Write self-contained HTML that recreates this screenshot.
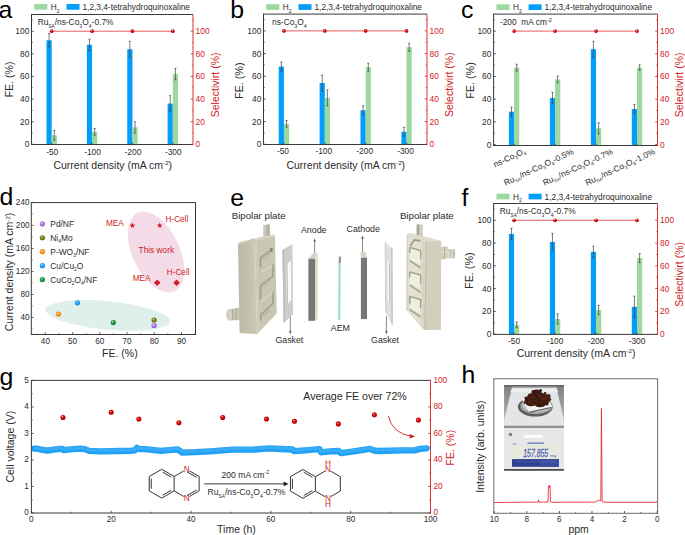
<!DOCTYPE html><html><head><meta charset="utf-8"><style>html,body{margin:0;padding:0;background:#fff;}svg{display:block;}</style></head><body>
<svg width="685" height="535" viewBox="0 0 685 535" font-family='"Liberation Sans", sans-serif'>
<rect width="685" height="535" fill="#fff"/>
<defs>
<radialGradient id="gpur" cx="0.5" cy="0.5" r="0.55" fx="0.36" fy="0.3"><stop offset="0" stop-color="#fff"/><stop offset="0.32" stop-color="#c488ec"/><stop offset="1" stop-color="#9a50d0"/></radialGradient>
<radialGradient id="goli" cx="0.5" cy="0.5" r="0.55" fx="0.36" fy="0.3"><stop offset="0" stop-color="#fff"/><stop offset="0.32" stop-color="#8e8e26"/><stop offset="1" stop-color="#62620c"/></radialGradient>
<radialGradient id="gora" cx="0.5" cy="0.5" r="0.55" fx="0.36" fy="0.3"><stop offset="0" stop-color="#fff"/><stop offset="0.32" stop-color="#ffa030"/><stop offset="1" stop-color="#f07c08"/></radialGradient>
<radialGradient id="gblu" cx="0.5" cy="0.5" r="0.55" fx="0.36" fy="0.3"><stop offset="0" stop-color="#fff"/><stop offset="0.32" stop-color="#30aaff"/><stop offset="1" stop-color="#0a88e8"/></radialGradient>
<radialGradient id="ggrn" cx="0.5" cy="0.5" r="0.55" fx="0.36" fy="0.3"><stop offset="0" stop-color="#fff"/><stop offset="0.32" stop-color="#2aa850"/><stop offset="1" stop-color="#0e7a30"/></radialGradient>
<radialGradient id="gred" cx="0.5" cy="0.5" r="0.55" fx="0.36" fy="0.3"><stop offset="0" stop-color="#fff"/><stop offset="0.32" stop-color="#dc0c0c"/><stop offset="1" stop-color="#b00000"/></radialGradient>
</defs>
<rect x="46.49" y="40.25" width="5.2" height="104.25" fill="#039dfc"/>
<rect x="51.69" y="135.25" width="5.2" height="9.25" fill="#9dd89f"/>
<line x1="49.09" y1="33.46" x2="49.09" y2="47.03" stroke="#444" stroke-width="0.7" />
<line x1="47.99" y1="33.46" x2="50.19" y2="33.46" stroke="#444" stroke-width="0.7" />
<line x1="47.99" y1="47.03" x2="50.19" y2="47.03" stroke="#444" stroke-width="0.7" />
<line x1="54.29" y1="130.39" x2="54.29" y2="140.12" stroke="#444" stroke-width="0.7" />
<line x1="53.19" y1="130.39" x2="55.39" y2="130.39" stroke="#444" stroke-width="0.7" />
<line x1="53.19" y1="140.12" x2="55.39" y2="140.12" stroke="#444" stroke-width="0.7" />
<rect x="86.86" y="44.77" width="5.2" height="99.73" fill="#039dfc"/>
<rect x="92.06" y="131.86" width="5.2" height="12.64" fill="#9dd89f"/>
<line x1="89.46" y1="39.12" x2="89.46" y2="50.43" stroke="#444" stroke-width="0.7" />
<line x1="88.36" y1="39.12" x2="90.56" y2="39.12" stroke="#444" stroke-width="0.7" />
<line x1="88.36" y1="50.43" x2="90.56" y2="50.43" stroke="#444" stroke-width="0.7" />
<line x1="94.66" y1="128.47" x2="94.66" y2="135.25" stroke="#444" stroke-width="0.7" />
<line x1="93.56" y1="128.47" x2="95.76" y2="128.47" stroke="#444" stroke-width="0.7" />
<line x1="93.56" y1="135.25" x2="95.76" y2="135.25" stroke="#444" stroke-width="0.7" />
<rect x="127.24" y="49.3" width="5.2" height="95.2" fill="#039dfc"/>
<rect x="132.44" y="127.34" width="5.2" height="17.16" fill="#9dd89f"/>
<line x1="129.84" y1="41.38" x2="129.84" y2="57.21" stroke="#444" stroke-width="0.7" />
<line x1="128.74" y1="41.38" x2="130.94" y2="41.38" stroke="#444" stroke-width="0.7" />
<line x1="128.74" y1="57.21" x2="130.94" y2="57.21" stroke="#444" stroke-width="0.7" />
<line x1="135.04" y1="121.68" x2="135.04" y2="132.99" stroke="#444" stroke-width="0.7" />
<line x1="133.94" y1="121.68" x2="136.14" y2="121.68" stroke="#444" stroke-width="0.7" />
<line x1="133.94" y1="132.99" x2="136.14" y2="132.99" stroke="#444" stroke-width="0.7" />
<rect x="167.61" y="103.58" width="5.2" height="40.92" fill="#039dfc"/>
<rect x="172.81" y="74.18" width="5.2" height="70.32" fill="#9dd89f"/>
<line x1="170.21" y1="95.67" x2="170.21" y2="111.5" stroke="#444" stroke-width="0.7" />
<line x1="169.11" y1="95.67" x2="171.31" y2="95.67" stroke="#444" stroke-width="0.7" />
<line x1="169.11" y1="111.5" x2="171.31" y2="111.5" stroke="#444" stroke-width="0.7" />
<line x1="175.41" y1="68.52" x2="175.41" y2="79.83" stroke="#444" stroke-width="0.7" />
<line x1="174.31" y1="68.52" x2="176.51" y2="68.52" stroke="#444" stroke-width="0.7" />
<line x1="174.31" y1="79.83" x2="176.51" y2="79.83" stroke="#444" stroke-width="0.7" />
<line x1="51.69" y1="31.2" x2="172.81" y2="31.2" stroke="#e34a4f" stroke-width="0.9" />
<circle cx="51.69" cy="31.2" r="1.85" fill="url(#gred)"/>
<circle cx="92.06" cy="31.2" r="1.85" fill="url(#gred)"/>
<circle cx="132.44" cy="31.2" r="1.85" fill="url(#gred)"/>
<circle cx="172.81" cy="31.2" r="1.85" fill="url(#gred)"/>
<line x1="31.5" y1="14.5" x2="193" y2="14.5" stroke="#3a3a3a" stroke-width="1.0" />
<line x1="31.5" y1="144.5" x2="193" y2="144.5" stroke="#3a3a3a" stroke-width="1.0" />
<line x1="31.5" y1="14.05" x2="31.5" y2="144.95" stroke="#3a3a3a" stroke-width="1.0" />
<line x1="193" y1="14.5" x2="193" y2="144.95" stroke="#d93339" stroke-width="1.0" />
<line x1="31.5" y1="144.3" x2="33.8" y2="144.3" stroke="#3a3a3a" stroke-width="0.8" />
<text x="29.3" y="147.25" font-size="8.4" fill="#2b2b2b" text-anchor="end" >0</text>
<line x1="193" y1="144.3" x2="190.7" y2="144.3" stroke="#d01c24" stroke-width="0.8" />
<text x="195.6" y="147.25" font-size="8.4" fill="#d01c24" text-anchor="start" >0</text>
<line x1="31.5" y1="121.68" x2="33.8" y2="121.68" stroke="#3a3a3a" stroke-width="0.8" />
<text x="29.3" y="124.63" font-size="8.4" fill="#2b2b2b" text-anchor="end" >20</text>
<line x1="193" y1="121.68" x2="190.7" y2="121.68" stroke="#d01c24" stroke-width="0.8" />
<text x="195.6" y="124.63" font-size="8.4" fill="#d01c24" text-anchor="start" >20</text>
<line x1="31.5" y1="99.06" x2="33.8" y2="99.06" stroke="#3a3a3a" stroke-width="0.8" />
<text x="29.3" y="102.01" font-size="8.4" fill="#2b2b2b" text-anchor="end" >40</text>
<line x1="193" y1="99.06" x2="190.7" y2="99.06" stroke="#d01c24" stroke-width="0.8" />
<text x="195.6" y="102.01" font-size="8.4" fill="#d01c24" text-anchor="start" >40</text>
<line x1="31.5" y1="76.44" x2="33.8" y2="76.44" stroke="#3a3a3a" stroke-width="0.8" />
<text x="29.3" y="79.39" font-size="8.4" fill="#2b2b2b" text-anchor="end" >60</text>
<line x1="193" y1="76.44" x2="190.7" y2="76.44" stroke="#d01c24" stroke-width="0.8" />
<text x="195.6" y="79.39" font-size="8.4" fill="#d01c24" text-anchor="start" >60</text>
<line x1="31.5" y1="53.82" x2="33.8" y2="53.82" stroke="#3a3a3a" stroke-width="0.8" />
<text x="29.3" y="56.77" font-size="8.4" fill="#2b2b2b" text-anchor="end" >80</text>
<line x1="193" y1="53.82" x2="190.7" y2="53.82" stroke="#d01c24" stroke-width="0.8" />
<text x="195.6" y="56.77" font-size="8.4" fill="#d01c24" text-anchor="start" >80</text>
<line x1="31.5" y1="31.2" x2="33.8" y2="31.2" stroke="#3a3a3a" stroke-width="0.8" />
<text x="29.3" y="34.15" font-size="8.4" fill="#2b2b2b" text-anchor="end" >100</text>
<line x1="193" y1="31.2" x2="190.7" y2="31.2" stroke="#d01c24" stroke-width="0.8" />
<text x="195.6" y="34.15" font-size="8.4" fill="#d01c24" text-anchor="start" >100</text>
<line x1="31.5" y1="132.99" x2="32.8" y2="132.99" stroke="#3a3a3a" stroke-width="0.7" />
<line x1="193" y1="132.99" x2="191.7" y2="132.99" stroke="#d01c24" stroke-width="0.7" />
<line x1="31.5" y1="110.37" x2="32.8" y2="110.37" stroke="#3a3a3a" stroke-width="0.7" />
<line x1="193" y1="110.37" x2="191.7" y2="110.37" stroke="#d01c24" stroke-width="0.7" />
<line x1="31.5" y1="87.75" x2="32.8" y2="87.75" stroke="#3a3a3a" stroke-width="0.7" />
<line x1="193" y1="87.75" x2="191.7" y2="87.75" stroke="#d01c24" stroke-width="0.7" />
<line x1="31.5" y1="65.13" x2="32.8" y2="65.13" stroke="#3a3a3a" stroke-width="0.7" />
<line x1="193" y1="65.13" x2="191.7" y2="65.13" stroke="#d01c24" stroke-width="0.7" />
<line x1="31.5" y1="42.51" x2="32.8" y2="42.51" stroke="#3a3a3a" stroke-width="0.7" />
<line x1="193" y1="42.51" x2="191.7" y2="42.51" stroke="#d01c24" stroke-width="0.7" />
<line x1="31.5" y1="19.89" x2="32.8" y2="19.89" stroke="#3a3a3a" stroke-width="0.7" />
<line x1="193" y1="19.89" x2="191.7" y2="19.89" stroke="#d01c24" stroke-width="0.7" />
<line x1="51.69" y1="144.5" x2="51.69" y2="142.5" stroke="#3a3a3a" stroke-width="0.8" />
<line x1="92.06" y1="144.5" x2="92.06" y2="142.5" stroke="#3a3a3a" stroke-width="0.8" />
<line x1="132.44" y1="144.5" x2="132.44" y2="142.5" stroke="#3a3a3a" stroke-width="0.8" />
<line x1="172.81" y1="144.5" x2="172.81" y2="142.5" stroke="#3a3a3a" stroke-width="0.8" />
<rect x="34.3" y="4" width="13.1" height="5.7" fill="#9dd89f"/>
<text x="50.8" y="9.9" font-size="8.3" fill="#2b2b2b" text-anchor="start" >H<tspan font-size="5.2" dy="2.6">2</tspan><tspan dy="-2.6">&#8203;</tspan></text>
<rect x="66.5" y="4" width="13" height="5.7" fill="#039dfc"/>
<text x="82.5" y="9.9" font-size="8.3" fill="#2b2b2b" text-anchor="start" >1,2,3,4-tetrahydroquinoxaline</text>
<text x="37.7" y="25.0" font-size="8.4" fill="#2b2b2b">Ru<tspan font-size="4.687200000000001" dy="2.7">SA</tspan><tspan dy="-2.7">&#8203;</tspan>/ns-Co<tspan font-size="5.208" dy="2.7">3</tspan><tspan dy="-2.7">&#8203;</tspan>O<tspan font-size="5.208" dy="2.7">4</tspan><tspan dy="-2.7">&#8203;</tspan>-0.7%</text>
<text x="52.19" y="154.5" font-size="8.4" fill="#2b2b2b" text-anchor="middle" >-50</text>
<text x="92.56" y="154.5" font-size="8.4" fill="#2b2b2b" text-anchor="middle" >-100</text>
<text x="132.94" y="154.5" font-size="8.4" fill="#2b2b2b" text-anchor="middle" >-200</text>
<text x="173.31" y="154.5" font-size="8.4" fill="#2b2b2b" text-anchor="middle" >-300</text>
<text x="112.75" y="168.6" font-size="10.5" fill="#2b2b2b" text-anchor="middle" >Current density (mA cm<tspan font-size="6.2" dy="-3.6">-2</tspan><tspan dy="3.6">&#8203;</tspan>)</text>
<text x="0" y="0" font-size="10.5" fill="#2b2b2b" text-anchor="middle" transform="translate(13.2,79.4) rotate(-90)">FE. (%)</text>
<text x="0" y="0" font-size="10.5" fill="#d01c24" text-anchor="middle" transform="translate(218.6,84.9) rotate(-90)">Selectivirt (%)</text>
<text x="-1.6" y="18" font-size="24.8" fill="#000" text-anchor="start" >a</text>
<rect x="278.74" y="66.62" width="5.2" height="77.88" fill="#039dfc"/>
<rect x="283.94" y="123.89" width="5.2" height="20.61" fill="#9dd89f"/>
<line x1="281.34" y1="62.09" x2="281.34" y2="71.16" stroke="#444" stroke-width="0.7" />
<line x1="280.24" y1="62.09" x2="282.44" y2="62.09" stroke="#444" stroke-width="0.7" />
<line x1="280.24" y1="71.16" x2="282.44" y2="71.16" stroke="#444" stroke-width="0.7" />
<line x1="286.54" y1="120.49" x2="286.54" y2="127.29" stroke="#444" stroke-width="0.7" />
<line x1="285.44" y1="120.49" x2="287.64" y2="120.49" stroke="#444" stroke-width="0.7" />
<line x1="285.44" y1="127.29" x2="287.64" y2="127.29" stroke="#444" stroke-width="0.7" />
<rect x="319.61" y="83.06" width="5.2" height="61.44" fill="#039dfc"/>
<rect x="324.81" y="97.81" width="5.2" height="46.69" fill="#9dd89f"/>
<line x1="322.21" y1="75.13" x2="322.21" y2="91" stroke="#444" stroke-width="0.7" />
<line x1="321.11" y1="75.13" x2="323.31" y2="75.13" stroke="#444" stroke-width="0.7" />
<line x1="321.11" y1="91" x2="323.31" y2="91" stroke="#444" stroke-width="0.7" />
<line x1="327.41" y1="89.87" x2="327.41" y2="105.74" stroke="#444" stroke-width="0.7" />
<line x1="326.31" y1="89.87" x2="328.51" y2="89.87" stroke="#444" stroke-width="0.7" />
<line x1="326.31" y1="105.74" x2="328.51" y2="105.74" stroke="#444" stroke-width="0.7" />
<rect x="360.49" y="110.28" width="5.2" height="34.22" fill="#039dfc"/>
<rect x="365.69" y="67.19" width="5.2" height="77.31" fill="#9dd89f"/>
<line x1="363.09" y1="105.74" x2="363.09" y2="114.82" stroke="#444" stroke-width="0.7" />
<line x1="361.99" y1="105.74" x2="364.19" y2="105.74" stroke="#444" stroke-width="0.7" />
<line x1="361.99" y1="114.82" x2="364.19" y2="114.82" stroke="#444" stroke-width="0.7" />
<line x1="368.29" y1="63.22" x2="368.29" y2="71.16" stroke="#444" stroke-width="0.7" />
<line x1="367.19" y1="63.22" x2="369.39" y2="63.22" stroke="#444" stroke-width="0.7" />
<line x1="367.19" y1="71.16" x2="369.39" y2="71.16" stroke="#444" stroke-width="0.7" />
<rect x="401.36" y="131.83" width="5.2" height="12.67" fill="#039dfc"/>
<rect x="406.56" y="47.23" width="5.2" height="97.27" fill="#9dd89f"/>
<line x1="403.96" y1="127.29" x2="403.96" y2="136.36" stroke="#444" stroke-width="0.7" />
<line x1="402.86" y1="127.29" x2="405.06" y2="127.29" stroke="#444" stroke-width="0.7" />
<line x1="402.86" y1="136.36" x2="405.06" y2="136.36" stroke="#444" stroke-width="0.7" />
<line x1="409.16" y1="43.26" x2="409.16" y2="51.2" stroke="#444" stroke-width="0.7" />
<line x1="408.06" y1="43.26" x2="410.26" y2="43.26" stroke="#444" stroke-width="0.7" />
<line x1="408.06" y1="51.2" x2="410.26" y2="51.2" stroke="#444" stroke-width="0.7" />
<line x1="283.94" y1="30.9" x2="406.56" y2="30.9" stroke="#e34a4f" stroke-width="0.9" />
<circle cx="283.94" cy="30.9" r="1.85" fill="url(#gred)"/>
<circle cx="324.81" cy="30.9" r="1.85" fill="url(#gred)"/>
<circle cx="365.69" cy="30.9" r="1.85" fill="url(#gred)"/>
<circle cx="406.56" cy="30.9" r="1.85" fill="url(#gred)"/>
<line x1="263.5" y1="14.1" x2="427" y2="14.1" stroke="#3a3a3a" stroke-width="1.0" />
<line x1="263.5" y1="144.5" x2="427" y2="144.5" stroke="#3a3a3a" stroke-width="1.0" />
<line x1="263.5" y1="13.65" x2="263.5" y2="144.95" stroke="#3a3a3a" stroke-width="1.0" />
<line x1="427" y1="14.1" x2="427" y2="144.95" stroke="#d93339" stroke-width="1.0" />
<line x1="263.5" y1="144.3" x2="265.8" y2="144.3" stroke="#3a3a3a" stroke-width="0.8" />
<text x="261.3" y="147.25" font-size="8.4" fill="#2b2b2b" text-anchor="end" >0</text>
<line x1="427" y1="144.3" x2="424.7" y2="144.3" stroke="#d01c24" stroke-width="0.8" />
<text x="429.6" y="147.25" font-size="8.4" fill="#d01c24" text-anchor="start" >0</text>
<line x1="263.5" y1="121.62" x2="265.8" y2="121.62" stroke="#3a3a3a" stroke-width="0.8" />
<text x="261.3" y="124.57" font-size="8.4" fill="#2b2b2b" text-anchor="end" >20</text>
<line x1="427" y1="121.62" x2="424.7" y2="121.62" stroke="#d01c24" stroke-width="0.8" />
<text x="429.6" y="124.57" font-size="8.4" fill="#d01c24" text-anchor="start" >20</text>
<line x1="263.5" y1="98.94" x2="265.8" y2="98.94" stroke="#3a3a3a" stroke-width="0.8" />
<text x="261.3" y="101.89" font-size="8.4" fill="#2b2b2b" text-anchor="end" >40</text>
<line x1="427" y1="98.94" x2="424.7" y2="98.94" stroke="#d01c24" stroke-width="0.8" />
<text x="429.6" y="101.89" font-size="8.4" fill="#d01c24" text-anchor="start" >40</text>
<line x1="263.5" y1="76.26" x2="265.8" y2="76.26" stroke="#3a3a3a" stroke-width="0.8" />
<text x="261.3" y="79.21" font-size="8.4" fill="#2b2b2b" text-anchor="end" >60</text>
<line x1="427" y1="76.26" x2="424.7" y2="76.26" stroke="#d01c24" stroke-width="0.8" />
<text x="429.6" y="79.21" font-size="8.4" fill="#d01c24" text-anchor="start" >60</text>
<line x1="263.5" y1="53.58" x2="265.8" y2="53.58" stroke="#3a3a3a" stroke-width="0.8" />
<text x="261.3" y="56.53" font-size="8.4" fill="#2b2b2b" text-anchor="end" >80</text>
<line x1="427" y1="53.58" x2="424.7" y2="53.58" stroke="#d01c24" stroke-width="0.8" />
<text x="429.6" y="56.53" font-size="8.4" fill="#d01c24" text-anchor="start" >80</text>
<line x1="263.5" y1="30.9" x2="265.8" y2="30.9" stroke="#3a3a3a" stroke-width="0.8" />
<text x="261.3" y="33.85" font-size="8.4" fill="#2b2b2b" text-anchor="end" >100</text>
<line x1="427" y1="30.9" x2="424.7" y2="30.9" stroke="#d01c24" stroke-width="0.8" />
<text x="429.6" y="33.85" font-size="8.4" fill="#d01c24" text-anchor="start" >100</text>
<line x1="263.5" y1="132.96" x2="264.8" y2="132.96" stroke="#3a3a3a" stroke-width="0.7" />
<line x1="427" y1="132.96" x2="425.7" y2="132.96" stroke="#d01c24" stroke-width="0.7" />
<line x1="263.5" y1="110.28" x2="264.8" y2="110.28" stroke="#3a3a3a" stroke-width="0.7" />
<line x1="427" y1="110.28" x2="425.7" y2="110.28" stroke="#d01c24" stroke-width="0.7" />
<line x1="263.5" y1="87.6" x2="264.8" y2="87.6" stroke="#3a3a3a" stroke-width="0.7" />
<line x1="427" y1="87.6" x2="425.7" y2="87.6" stroke="#d01c24" stroke-width="0.7" />
<line x1="263.5" y1="64.92" x2="264.8" y2="64.92" stroke="#3a3a3a" stroke-width="0.7" />
<line x1="427" y1="64.92" x2="425.7" y2="64.92" stroke="#d01c24" stroke-width="0.7" />
<line x1="263.5" y1="42.24" x2="264.8" y2="42.24" stroke="#3a3a3a" stroke-width="0.7" />
<line x1="427" y1="42.24" x2="425.7" y2="42.24" stroke="#d01c24" stroke-width="0.7" />
<line x1="263.5" y1="19.56" x2="264.8" y2="19.56" stroke="#3a3a3a" stroke-width="0.7" />
<line x1="427" y1="19.56" x2="425.7" y2="19.56" stroke="#d01c24" stroke-width="0.7" />
<line x1="283.94" y1="144.5" x2="283.94" y2="142.5" stroke="#3a3a3a" stroke-width="0.8" />
<line x1="324.81" y1="144.5" x2="324.81" y2="142.5" stroke="#3a3a3a" stroke-width="0.8" />
<line x1="365.69" y1="144.5" x2="365.69" y2="142.5" stroke="#3a3a3a" stroke-width="0.8" />
<line x1="406.56" y1="144.5" x2="406.56" y2="142.5" stroke="#3a3a3a" stroke-width="0.8" />
<rect x="266.3" y="4.2" width="13.1" height="5.7" fill="#9dd89f"/>
<text x="282.8" y="10.1" font-size="8.3" fill="#2b2b2b" text-anchor="start" >H<tspan font-size="5.2" dy="2.6">2</tspan><tspan dy="-2.6">&#8203;</tspan></text>
<rect x="298.5" y="4.2" width="13" height="5.7" fill="#039dfc"/>
<text x="314.5" y="10.1" font-size="8.3" fill="#2b2b2b" text-anchor="start" >1,2,3,4-tetrahydroquinoxaline</text>
<text x="272" y="25.4" font-size="8.4" fill="#2b2b2b">ns-Co<tspan font-size="5.3" dy="2.7">3</tspan><tspan dy="-2.7">&#8203;</tspan>O<tspan font-size="5.3" dy="2.7">4</tspan><tspan dy="-2.7">&#8203;</tspan></text>
<text x="282.94" y="153.9" font-size="8.4" fill="#2b2b2b" text-anchor="middle" >-50</text>
<text x="323.81" y="153.9" font-size="8.4" fill="#2b2b2b" text-anchor="middle" >-100</text>
<text x="364.69" y="153.9" font-size="8.4" fill="#2b2b2b" text-anchor="middle" >-200</text>
<text x="405.56" y="153.9" font-size="8.4" fill="#2b2b2b" text-anchor="middle" >-300</text>
<text x="345.75" y="168.6" font-size="10.5" fill="#2b2b2b" text-anchor="middle" >Current density (mA cm<tspan font-size="6.2" dy="-3.6">-2</tspan><tspan dy="3.6">&#8203;</tspan>)</text>
<text x="0" y="0" font-size="10.8" fill="#2b2b2b" text-anchor="middle" transform="translate(243.3,80.8) rotate(-90)">FE. (%)</text>
<text x="0" y="0" font-size="10.5" fill="#d01c24" text-anchor="middle" transform="translate(452.6,84.7) rotate(-90)">Selectivirt (%)</text>
<text x="230.2" y="18" font-size="24.8" fill="#000" text-anchor="start" >b</text>
<rect x="508.89" y="111.69" width="5.2" height="33.81" fill="#039dfc"/>
<rect x="514.09" y="67.65" width="5.2" height="77.85" fill="#9dd89f"/>
<line x1="511.49" y1="107.14" x2="511.49" y2="116.22" stroke="#444" stroke-width="0.7" />
<line x1="510.39" y1="107.14" x2="512.59" y2="107.14" stroke="#444" stroke-width="0.7" />
<line x1="510.39" y1="116.22" x2="512.59" y2="116.22" stroke="#444" stroke-width="0.7" />
<line x1="516.69" y1="64.24" x2="516.69" y2="71.05" stroke="#444" stroke-width="0.7" />
<line x1="515.59" y1="64.24" x2="517.79" y2="64.24" stroke="#444" stroke-width="0.7" />
<line x1="515.59" y1="71.05" x2="517.79" y2="71.05" stroke="#444" stroke-width="0.7" />
<rect x="549.86" y="98.06" width="5.2" height="47.44" fill="#039dfc"/>
<rect x="555.06" y="79.45" width="5.2" height="66.05" fill="#9dd89f"/>
<line x1="552.46" y1="92.39" x2="552.46" y2="103.74" stroke="#444" stroke-width="0.7" />
<line x1="551.36" y1="92.39" x2="553.56" y2="92.39" stroke="#444" stroke-width="0.7" />
<line x1="551.36" y1="103.74" x2="553.56" y2="103.74" stroke="#444" stroke-width="0.7" />
<line x1="557.66" y1="76.05" x2="557.66" y2="82.86" stroke="#444" stroke-width="0.7" />
<line x1="556.56" y1="76.05" x2="558.76" y2="76.05" stroke="#444" stroke-width="0.7" />
<line x1="556.56" y1="82.86" x2="558.76" y2="82.86" stroke="#444" stroke-width="0.7" />
<rect x="590.84" y="49.26" width="5.2" height="96.24" fill="#039dfc"/>
<rect x="596.04" y="128.37" width="5.2" height="17.13" fill="#9dd89f"/>
<line x1="593.44" y1="41.31" x2="593.44" y2="57.2" stroke="#444" stroke-width="0.7" />
<line x1="592.34" y1="41.31" x2="594.54" y2="41.31" stroke="#444" stroke-width="0.7" />
<line x1="592.34" y1="57.2" x2="594.54" y2="57.2" stroke="#444" stroke-width="0.7" />
<line x1="598.64" y1="122.69" x2="598.64" y2="134.04" stroke="#444" stroke-width="0.7" />
<line x1="597.54" y1="122.69" x2="599.74" y2="122.69" stroke="#444" stroke-width="0.7" />
<line x1="597.54" y1="134.04" x2="599.74" y2="134.04" stroke="#444" stroke-width="0.7" />
<rect x="631.81" y="109.07" width="5.2" height="36.43" fill="#039dfc"/>
<rect x="637.01" y="67.65" width="5.2" height="77.85" fill="#9dd89f"/>
<line x1="634.41" y1="104.53" x2="634.41" y2="113.61" stroke="#444" stroke-width="0.7" />
<line x1="633.31" y1="104.53" x2="635.51" y2="104.53" stroke="#444" stroke-width="0.7" />
<line x1="633.31" y1="113.61" x2="635.51" y2="113.61" stroke="#444" stroke-width="0.7" />
<line x1="639.61" y1="64.81" x2="639.61" y2="70.48" stroke="#444" stroke-width="0.7" />
<line x1="638.51" y1="64.81" x2="640.71" y2="64.81" stroke="#444" stroke-width="0.7" />
<line x1="638.51" y1="70.48" x2="640.71" y2="70.48" stroke="#444" stroke-width="0.7" />
<line x1="514.09" y1="31.1" x2="637.01" y2="31.1" stroke="#e34a4f" stroke-width="0.9" />
<circle cx="514.09" cy="31.1" r="1.85" fill="url(#gred)"/>
<circle cx="555.06" cy="31.1" r="1.85" fill="url(#gred)"/>
<circle cx="596.04" cy="31.1" r="1.85" fill="url(#gred)"/>
<circle cx="637.01" cy="31.1" r="1.85" fill="url(#gred)"/>
<line x1="493.6" y1="14.1" x2="657.5" y2="14.1" stroke="#3a3a3a" stroke-width="1.0" />
<line x1="493.6" y1="145.5" x2="657.5" y2="145.5" stroke="#3a3a3a" stroke-width="1.0" />
<line x1="493.6" y1="13.65" x2="493.6" y2="145.95" stroke="#3a3a3a" stroke-width="1.0" />
<line x1="657.5" y1="14.1" x2="657.5" y2="145.95" stroke="#d93339" stroke-width="1.0" />
<line x1="493.6" y1="144.6" x2="495.9" y2="144.6" stroke="#3a3a3a" stroke-width="0.8" />
<text x="491.4" y="147.55" font-size="8.4" fill="#2b2b2b" text-anchor="end" >0</text>
<line x1="657.5" y1="144.6" x2="655.2" y2="144.6" stroke="#d01c24" stroke-width="0.8" />
<text x="660.1" y="147.55" font-size="8.4" fill="#d01c24" text-anchor="start" >0</text>
<line x1="493.6" y1="121.9" x2="495.9" y2="121.9" stroke="#3a3a3a" stroke-width="0.8" />
<text x="491.4" y="124.85" font-size="8.4" fill="#2b2b2b" text-anchor="end" >20</text>
<line x1="657.5" y1="121.9" x2="655.2" y2="121.9" stroke="#d01c24" stroke-width="0.8" />
<text x="660.1" y="124.85" font-size="8.4" fill="#d01c24" text-anchor="start" >20</text>
<line x1="493.6" y1="99.2" x2="495.9" y2="99.2" stroke="#3a3a3a" stroke-width="0.8" />
<text x="491.4" y="102.15" font-size="8.4" fill="#2b2b2b" text-anchor="end" >40</text>
<line x1="657.5" y1="99.2" x2="655.2" y2="99.2" stroke="#d01c24" stroke-width="0.8" />
<text x="660.1" y="102.15" font-size="8.4" fill="#d01c24" text-anchor="start" >40</text>
<line x1="493.6" y1="76.5" x2="495.9" y2="76.5" stroke="#3a3a3a" stroke-width="0.8" />
<text x="491.4" y="79.45" font-size="8.4" fill="#2b2b2b" text-anchor="end" >60</text>
<line x1="657.5" y1="76.5" x2="655.2" y2="76.5" stroke="#d01c24" stroke-width="0.8" />
<text x="660.1" y="79.45" font-size="8.4" fill="#d01c24" text-anchor="start" >60</text>
<line x1="493.6" y1="53.8" x2="495.9" y2="53.8" stroke="#3a3a3a" stroke-width="0.8" />
<text x="491.4" y="56.75" font-size="8.4" fill="#2b2b2b" text-anchor="end" >80</text>
<line x1="657.5" y1="53.8" x2="655.2" y2="53.8" stroke="#d01c24" stroke-width="0.8" />
<text x="660.1" y="56.75" font-size="8.4" fill="#d01c24" text-anchor="start" >80</text>
<line x1="493.6" y1="31.1" x2="495.9" y2="31.1" stroke="#3a3a3a" stroke-width="0.8" />
<text x="491.4" y="34.05" font-size="8.4" fill="#2b2b2b" text-anchor="end" >100</text>
<line x1="657.5" y1="31.1" x2="655.2" y2="31.1" stroke="#d01c24" stroke-width="0.8" />
<text x="660.1" y="34.05" font-size="8.4" fill="#d01c24" text-anchor="start" >100</text>
<line x1="493.6" y1="133.25" x2="494.9" y2="133.25" stroke="#3a3a3a" stroke-width="0.7" />
<line x1="657.5" y1="133.25" x2="656.2" y2="133.25" stroke="#d01c24" stroke-width="0.7" />
<line x1="493.6" y1="110.55" x2="494.9" y2="110.55" stroke="#3a3a3a" stroke-width="0.7" />
<line x1="657.5" y1="110.55" x2="656.2" y2="110.55" stroke="#d01c24" stroke-width="0.7" />
<line x1="493.6" y1="87.85" x2="494.9" y2="87.85" stroke="#3a3a3a" stroke-width="0.7" />
<line x1="657.5" y1="87.85" x2="656.2" y2="87.85" stroke="#d01c24" stroke-width="0.7" />
<line x1="493.6" y1="65.15" x2="494.9" y2="65.15" stroke="#3a3a3a" stroke-width="0.7" />
<line x1="657.5" y1="65.15" x2="656.2" y2="65.15" stroke="#d01c24" stroke-width="0.7" />
<line x1="493.6" y1="42.45" x2="494.9" y2="42.45" stroke="#3a3a3a" stroke-width="0.7" />
<line x1="657.5" y1="42.45" x2="656.2" y2="42.45" stroke="#d01c24" stroke-width="0.7" />
<line x1="493.6" y1="19.75" x2="494.9" y2="19.75" stroke="#3a3a3a" stroke-width="0.7" />
<line x1="657.5" y1="19.75" x2="656.2" y2="19.75" stroke="#d01c24" stroke-width="0.7" />
<line x1="514.09" y1="145.5" x2="514.09" y2="143.5" stroke="#3a3a3a" stroke-width="0.8" />
<line x1="555.06" y1="145.5" x2="555.06" y2="143.5" stroke="#3a3a3a" stroke-width="0.8" />
<line x1="596.04" y1="145.5" x2="596.04" y2="143.5" stroke="#3a3a3a" stroke-width="0.8" />
<line x1="637.01" y1="145.5" x2="637.01" y2="143.5" stroke="#3a3a3a" stroke-width="0.8" />
<rect x="496.4" y="4.3" width="13.1" height="5.7" fill="#9dd89f"/>
<text x="512.9" y="10.2" font-size="8.3" fill="#2b2b2b" text-anchor="start" >H<tspan font-size="5.2" dy="2.6">2</tspan><tspan dy="-2.6">&#8203;</tspan></text>
<rect x="528.6" y="4.3" width="13" height="5.7" fill="#039dfc"/>
<text x="544.6" y="10.2" font-size="8.3" fill="#2b2b2b" text-anchor="start" >1,2,3,4-tetrahydroquinoxaline</text>
<text x="499.9" y="25.1" font-size="8.4" fill="#2b2b2b">-200&#160; mA cm<tspan font-size="5.6" dy="-3.4">-2</tspan><tspan dy="3.4">&#8203;</tspan></text>
<text x="0" y="0" font-size="8.4" fill="#2b2b2b" text-anchor="end" transform="translate(526.39,152.9) rotate(-25)">ns-Co<tspan font-size="5.2" dy="1.8">3</tspan><tspan dy="-1.8">&#8203;</tspan>O<tspan font-size="5.2" dy="1.8">4</tspan><tspan dy="-1.8">&#8203;</tspan></text>
<text x="0" y="0" font-size="8.4" fill="#2b2b2b" text-anchor="end" transform="translate(574.26,153.6) rotate(-25)">Ru<tspan font-size="4.8" dy="1.8">SA</tspan><tspan dy="-1.8">&#8203;</tspan>/ns-Co<tspan font-size="5.2" dy="1.8">3</tspan><tspan dy="-1.8">&#8203;</tspan>O<tspan font-size="5.2" dy="1.8">4</tspan><tspan dy="-1.8">&#8203;</tspan>-0.5%</text>
<text x="0" y="0" font-size="8.4" fill="#2b2b2b" text-anchor="end" transform="translate(613.44,153.6) rotate(-25)">Ru<tspan font-size="4.8" dy="1.8">SA</tspan><tspan dy="-1.8">&#8203;</tspan>/ns-Co<tspan font-size="5.2" dy="1.8">3</tspan><tspan dy="-1.8">&#8203;</tspan>O<tspan font-size="5.2" dy="1.8">4</tspan><tspan dy="-1.8">&#8203;</tspan>-0.7%</text>
<text x="0" y="0" font-size="8.4" fill="#2b2b2b" text-anchor="end" transform="translate(655.81,153.6) rotate(-25)">Ru<tspan font-size="4.8" dy="1.8">SA</tspan><tspan dy="-1.8">&#8203;</tspan>/ns-Co<tspan font-size="5.2" dy="1.8">3</tspan><tspan dy="-1.8">&#8203;</tspan>O<tspan font-size="5.2" dy="1.8">4</tspan><tspan dy="-1.8">&#8203;</tspan>-1.0%</text>
<text x="0" y="0" font-size="10.8" fill="#2b2b2b" text-anchor="middle" transform="translate(473.6,80.55) rotate(-90)">FE. (%)</text>
<text x="0" y="0" font-size="10.5" fill="#d01c24" text-anchor="middle" transform="translate(683.1,84.85) rotate(-90)">Selectivirt (%)</text>
<text x="461" y="18" font-size="24.8" fill="#000" text-anchor="start" >c</text>
<rect x="508.89" y="233.97" width="5.2" height="100.43" fill="#039dfc"/>
<rect x="514.09" y="324.86" width="5.2" height="9.54" fill="#9dd89f"/>
<line x1="511.49" y1="228.27" x2="511.49" y2="239.66" stroke="#444" stroke-width="0.7" />
<line x1="510.39" y1="228.27" x2="512.59" y2="228.27" stroke="#444" stroke-width="0.7" />
<line x1="510.39" y1="239.66" x2="512.59" y2="239.66" stroke="#444" stroke-width="0.7" />
<line x1="516.69" y1="322.01" x2="516.69" y2="327.71" stroke="#444" stroke-width="0.7" />
<line x1="515.59" y1="322.01" x2="517.79" y2="322.01" stroke="#444" stroke-width="0.7" />
<line x1="515.59" y1="327.71" x2="517.79" y2="327.71" stroke="#444" stroke-width="0.7" />
<rect x="549.86" y="241.94" width="5.2" height="92.46" fill="#039dfc"/>
<rect x="555.06" y="318.94" width="5.2" height="15.46" fill="#9dd89f"/>
<line x1="552.46" y1="233.4" x2="552.46" y2="250.48" stroke="#444" stroke-width="0.7" />
<line x1="551.36" y1="233.4" x2="553.56" y2="233.4" stroke="#444" stroke-width="0.7" />
<line x1="551.36" y1="250.48" x2="553.56" y2="250.48" stroke="#444" stroke-width="0.7" />
<line x1="557.66" y1="313.81" x2="557.66" y2="324.06" stroke="#444" stroke-width="0.7" />
<line x1="556.56" y1="313.81" x2="558.76" y2="313.81" stroke="#444" stroke-width="0.7" />
<line x1="556.56" y1="324.06" x2="558.76" y2="324.06" stroke="#444" stroke-width="0.7" />
<rect x="590.84" y="251.85" width="5.2" height="82.55" fill="#039dfc"/>
<rect x="596.04" y="309.94" width="5.2" height="24.46" fill="#9dd89f"/>
<line x1="593.44" y1="246.16" x2="593.44" y2="257.55" stroke="#444" stroke-width="0.7" />
<line x1="592.34" y1="246.16" x2="594.54" y2="246.16" stroke="#444" stroke-width="0.7" />
<line x1="592.34" y1="257.55" x2="594.54" y2="257.55" stroke="#444" stroke-width="0.7" />
<line x1="598.64" y1="305.38" x2="598.64" y2="314.5" stroke="#444" stroke-width="0.7" />
<line x1="597.54" y1="305.38" x2="599.74" y2="305.38" stroke="#444" stroke-width="0.7" />
<line x1="597.54" y1="314.5" x2="599.74" y2="314.5" stroke="#444" stroke-width="0.7" />
<rect x="631.81" y="306.86" width="5.2" height="27.54" fill="#039dfc"/>
<rect x="637.01" y="258.11" width="5.2" height="76.29" fill="#9dd89f"/>
<line x1="634.41" y1="296.16" x2="634.41" y2="317.57" stroke="#444" stroke-width="0.7" />
<line x1="633.31" y1="296.16" x2="635.51" y2="296.16" stroke="#444" stroke-width="0.7" />
<line x1="633.31" y1="317.57" x2="635.51" y2="317.57" stroke="#444" stroke-width="0.7" />
<line x1="639.61" y1="253.56" x2="639.61" y2="262.67" stroke="#444" stroke-width="0.7" />
<line x1="638.51" y1="253.56" x2="640.71" y2="253.56" stroke="#444" stroke-width="0.7" />
<line x1="638.51" y1="262.67" x2="640.71" y2="262.67" stroke="#444" stroke-width="0.7" />
<line x1="514.09" y1="220.3" x2="637.01" y2="220.3" stroke="#e34a4f" stroke-width="0.9" />
<circle cx="514.09" cy="220.3" r="1.85" fill="url(#gred)"/>
<circle cx="555.06" cy="220.3" r="1.85" fill="url(#gred)"/>
<circle cx="596.04" cy="220.3" r="1.85" fill="url(#gred)"/>
<circle cx="637.01" cy="220.3" r="1.85" fill="url(#gred)"/>
<line x1="493.6" y1="203.5" x2="657.5" y2="203.5" stroke="#3a3a3a" stroke-width="1.0" />
<line x1="493.6" y1="334.4" x2="657.5" y2="334.4" stroke="#3a3a3a" stroke-width="1.0" />
<line x1="493.6" y1="203.05" x2="493.6" y2="334.85" stroke="#3a3a3a" stroke-width="1.0" />
<line x1="657.5" y1="203.5" x2="657.5" y2="334.85" stroke="#d93339" stroke-width="1.0" />
<line x1="493.6" y1="334.2" x2="495.9" y2="334.2" stroke="#3a3a3a" stroke-width="0.8" />
<text x="491.4" y="337.15" font-size="8.4" fill="#2b2b2b" text-anchor="end" >0</text>
<line x1="657.5" y1="334.2" x2="655.2" y2="334.2" stroke="#d01c24" stroke-width="0.8" />
<text x="660.1" y="337.15" font-size="8.4" fill="#d01c24" text-anchor="start" >0</text>
<line x1="493.6" y1="311.42" x2="495.9" y2="311.42" stroke="#3a3a3a" stroke-width="0.8" />
<text x="491.4" y="314.37" font-size="8.4" fill="#2b2b2b" text-anchor="end" >20</text>
<line x1="657.5" y1="311.42" x2="655.2" y2="311.42" stroke="#d01c24" stroke-width="0.8" />
<text x="660.1" y="314.37" font-size="8.4" fill="#d01c24" text-anchor="start" >20</text>
<line x1="493.6" y1="288.64" x2="495.9" y2="288.64" stroke="#3a3a3a" stroke-width="0.8" />
<text x="491.4" y="291.59" font-size="8.4" fill="#2b2b2b" text-anchor="end" >40</text>
<line x1="657.5" y1="288.64" x2="655.2" y2="288.64" stroke="#d01c24" stroke-width="0.8" />
<text x="660.1" y="291.59" font-size="8.4" fill="#d01c24" text-anchor="start" >40</text>
<line x1="493.6" y1="265.86" x2="495.9" y2="265.86" stroke="#3a3a3a" stroke-width="0.8" />
<text x="491.4" y="268.81" font-size="8.4" fill="#2b2b2b" text-anchor="end" >60</text>
<line x1="657.5" y1="265.86" x2="655.2" y2="265.86" stroke="#d01c24" stroke-width="0.8" />
<text x="660.1" y="268.81" font-size="8.4" fill="#d01c24" text-anchor="start" >60</text>
<line x1="493.6" y1="243.08" x2="495.9" y2="243.08" stroke="#3a3a3a" stroke-width="0.8" />
<text x="491.4" y="246.03" font-size="8.4" fill="#2b2b2b" text-anchor="end" >80</text>
<line x1="657.5" y1="243.08" x2="655.2" y2="243.08" stroke="#d01c24" stroke-width="0.8" />
<text x="660.1" y="246.03" font-size="8.4" fill="#d01c24" text-anchor="start" >80</text>
<line x1="493.6" y1="220.3" x2="495.9" y2="220.3" stroke="#3a3a3a" stroke-width="0.8" />
<text x="491.4" y="223.25" font-size="8.4" fill="#2b2b2b" text-anchor="end" >100</text>
<line x1="657.5" y1="220.3" x2="655.2" y2="220.3" stroke="#d01c24" stroke-width="0.8" />
<text x="660.1" y="223.25" font-size="8.4" fill="#d01c24" text-anchor="start" >100</text>
<line x1="493.6" y1="322.81" x2="494.9" y2="322.81" stroke="#3a3a3a" stroke-width="0.7" />
<line x1="657.5" y1="322.81" x2="656.2" y2="322.81" stroke="#d01c24" stroke-width="0.7" />
<line x1="493.6" y1="300.03" x2="494.9" y2="300.03" stroke="#3a3a3a" stroke-width="0.7" />
<line x1="657.5" y1="300.03" x2="656.2" y2="300.03" stroke="#d01c24" stroke-width="0.7" />
<line x1="493.6" y1="277.25" x2="494.9" y2="277.25" stroke="#3a3a3a" stroke-width="0.7" />
<line x1="657.5" y1="277.25" x2="656.2" y2="277.25" stroke="#d01c24" stroke-width="0.7" />
<line x1="493.6" y1="254.47" x2="494.9" y2="254.47" stroke="#3a3a3a" stroke-width="0.7" />
<line x1="657.5" y1="254.47" x2="656.2" y2="254.47" stroke="#d01c24" stroke-width="0.7" />
<line x1="493.6" y1="231.69" x2="494.9" y2="231.69" stroke="#3a3a3a" stroke-width="0.7" />
<line x1="657.5" y1="231.69" x2="656.2" y2="231.69" stroke="#d01c24" stroke-width="0.7" />
<line x1="493.6" y1="208.91" x2="494.9" y2="208.91" stroke="#3a3a3a" stroke-width="0.7" />
<line x1="657.5" y1="208.91" x2="656.2" y2="208.91" stroke="#d01c24" stroke-width="0.7" />
<line x1="514.09" y1="334.4" x2="514.09" y2="332.4" stroke="#3a3a3a" stroke-width="0.8" />
<line x1="555.06" y1="334.4" x2="555.06" y2="332.4" stroke="#3a3a3a" stroke-width="0.8" />
<line x1="596.04" y1="334.4" x2="596.04" y2="332.4" stroke="#3a3a3a" stroke-width="0.8" />
<line x1="637.01" y1="334.4" x2="637.01" y2="332.4" stroke="#3a3a3a" stroke-width="0.8" />
<rect x="496.4" y="193.7" width="13.1" height="5.7" fill="#9dd89f"/>
<text x="512.9" y="199.6" font-size="8.3" fill="#2b2b2b" text-anchor="start" >H<tspan font-size="5.2" dy="2.6">2</tspan><tspan dy="-2.6">&#8203;</tspan></text>
<rect x="528.6" y="193.7" width="13" height="5.7" fill="#039dfc"/>
<text x="544.6" y="199.6" font-size="8.3" fill="#2b2b2b" text-anchor="start" >1,2,3,4-tetrahydroquinoxaline</text>
<text x="499.8" y="214.1" font-size="8.4" fill="#2b2b2b">Ru<tspan font-size="4.687200000000001" dy="2.7">SA</tspan><tspan dy="-2.7">&#8203;</tspan>/ns-Co<tspan font-size="5.208" dy="2.7">3</tspan><tspan dy="-2.7">&#8203;</tspan>O<tspan font-size="5.208" dy="2.7">4</tspan><tspan dy="-2.7">&#8203;</tspan>-0.7%</text>
<text x="514.09" y="343.6" font-size="8.4" fill="#2b2b2b" text-anchor="middle" >-50</text>
<text x="555.06" y="343.6" font-size="8.4" fill="#2b2b2b" text-anchor="middle" >-100</text>
<text x="596.04" y="343.6" font-size="8.4" fill="#2b2b2b" text-anchor="middle" >-200</text>
<text x="637.01" y="343.6" font-size="8.4" fill="#2b2b2b" text-anchor="middle" >-300</text>
<text x="576.05" y="356.5" font-size="10.5" fill="#2b2b2b" text-anchor="middle" >Current density (mA cm<tspan font-size="6.2" dy="-3.6">-2</tspan><tspan dy="3.6">&#8203;</tspan>)</text>
<text x="0" y="0" font-size="10.8" fill="#2b2b2b" text-anchor="middle" transform="translate(473.4,270.65) rotate(-90)">FE. (%)</text>
<text x="0" y="0" font-size="10.5" fill="#d01c24" text-anchor="middle" transform="translate(683.1,274.35) rotate(-90)">Selectivirt (%)</text>
<text x="461.5" y="205.5" font-size="24.8" fill="#000" text-anchor="start" >f</text>
<ellipse cx="107.7" cy="315.4" rx="62.5" ry="14.2" transform="rotate(5.5 107.7 315.4)" fill="#deefec"/>
<ellipse cx="156" cy="252" rx="43.4" ry="23.6" transform="rotate(64.6 156 252)" fill="#f3dbe8"/>
<line x1="31.3" y1="202.6" x2="195.5" y2="202.6" stroke="#3a3a3a" stroke-width="1.0" />
<line x1="31.3" y1="334.5" x2="195.5" y2="334.5" stroke="#3a3a3a" stroke-width="1.0" />
<line x1="31.3" y1="202.15" x2="31.3" y2="334.95" stroke="#3a3a3a" stroke-width="1.0" />
<line x1="195.5" y1="202.15" x2="195.5" y2="334.95" stroke="#3a3a3a" stroke-width="1.0" />
<line x1="31.3" y1="317.5" x2="33.6" y2="317.5" stroke="#3a3a3a" stroke-width="0.8" />
<text x="29.5" y="320.45" font-size="8.2" fill="#2b2b2b" text-anchor="end" >40</text>
<line x1="31.3" y1="294.48" x2="33.6" y2="294.48" stroke="#3a3a3a" stroke-width="0.8" />
<text x="29.5" y="297.43" font-size="8.2" fill="#2b2b2b" text-anchor="end" >80</text>
<line x1="31.3" y1="271.45" x2="33.6" y2="271.45" stroke="#3a3a3a" stroke-width="0.8" />
<text x="29.5" y="274.4" font-size="8.2" fill="#2b2b2b" text-anchor="end" >120</text>
<line x1="31.3" y1="248.43" x2="33.6" y2="248.43" stroke="#3a3a3a" stroke-width="0.8" />
<text x="29.5" y="251.38" font-size="8.2" fill="#2b2b2b" text-anchor="end" >160</text>
<line x1="31.3" y1="225.4" x2="33.6" y2="225.4" stroke="#3a3a3a" stroke-width="0.8" />
<text x="29.5" y="228.35" font-size="8.2" fill="#2b2b2b" text-anchor="end" >200</text>
<line x1="31.3" y1="202.38" x2="33.6" y2="202.38" stroke="#3a3a3a" stroke-width="0.8" />
<text x="29.5" y="205.33" font-size="8.2" fill="#2b2b2b" text-anchor="end" >240</text>
<line x1="31.3" y1="329.01" x2="32.6" y2="329.01" stroke="#3a3a3a" stroke-width="0.7" />
<line x1="31.3" y1="305.99" x2="32.6" y2="305.99" stroke="#3a3a3a" stroke-width="0.7" />
<line x1="31.3" y1="282.96" x2="32.6" y2="282.96" stroke="#3a3a3a" stroke-width="0.7" />
<line x1="31.3" y1="259.94" x2="32.6" y2="259.94" stroke="#3a3a3a" stroke-width="0.7" />
<line x1="31.3" y1="236.92" x2="32.6" y2="236.92" stroke="#3a3a3a" stroke-width="0.7" />
<line x1="31.3" y1="213.89" x2="32.6" y2="213.89" stroke="#3a3a3a" stroke-width="0.7" />
<line x1="45.4" y1="334.5" x2="45.4" y2="332.2" stroke="#3a3a3a" stroke-width="0.8" />
<text x="45.4" y="343.6" font-size="8.2" fill="#2b2b2b" text-anchor="middle" >40</text>
<line x1="72.62" y1="334.5" x2="72.62" y2="332.2" stroke="#3a3a3a" stroke-width="0.8" />
<text x="72.62" y="343.6" font-size="8.2" fill="#2b2b2b" text-anchor="middle" >50</text>
<line x1="99.84" y1="334.5" x2="99.84" y2="332.2" stroke="#3a3a3a" stroke-width="0.8" />
<text x="99.84" y="343.6" font-size="8.2" fill="#2b2b2b" text-anchor="middle" >60</text>
<line x1="127.06" y1="334.5" x2="127.06" y2="332.2" stroke="#3a3a3a" stroke-width="0.8" />
<text x="127.06" y="343.6" font-size="8.2" fill="#2b2b2b" text-anchor="middle" >70</text>
<line x1="154.28" y1="334.5" x2="154.28" y2="332.2" stroke="#3a3a3a" stroke-width="0.8" />
<text x="154.28" y="343.6" font-size="8.2" fill="#2b2b2b" text-anchor="middle" >80</text>
<line x1="181.5" y1="334.5" x2="181.5" y2="332.2" stroke="#3a3a3a" stroke-width="0.8" />
<text x="181.5" y="343.6" font-size="8.2" fill="#2b2b2b" text-anchor="middle" >90</text>
<line x1="31.79" y1="334.5" x2="31.79" y2="333.2" stroke="#3a3a3a" stroke-width="0.7" />
<line x1="59.01" y1="334.5" x2="59.01" y2="333.2" stroke="#3a3a3a" stroke-width="0.7" />
<line x1="86.23" y1="334.5" x2="86.23" y2="333.2" stroke="#3a3a3a" stroke-width="0.7" />
<line x1="113.45" y1="334.5" x2="113.45" y2="333.2" stroke="#3a3a3a" stroke-width="0.7" />
<line x1="140.67" y1="334.5" x2="140.67" y2="333.2" stroke="#3a3a3a" stroke-width="0.7" />
<line x1="167.89" y1="334.5" x2="167.89" y2="333.2" stroke="#3a3a3a" stroke-width="0.7" />
<line x1="195.11" y1="334.5" x2="195.11" y2="333.2" stroke="#3a3a3a" stroke-width="0.7" />
<circle cx="77.4" cy="302.8" r="2.6" fill="url(#gblu)"/>
<circle cx="58.5" cy="314.1" r="2.6" fill="url(#gora)"/>
<circle cx="113.3" cy="322.6" r="2.6" fill="url(#ggrn)"/>
<circle cx="154.1" cy="320" r="2.6" fill="url(#goli)"/>
<circle cx="154.1" cy="325.5" r="2.6" fill="url(#gpur)"/>
<polygon points="132.4,222.6 133.14,224.58 135.25,224.67 133.6,225.99 134.16,228.03 132.4,226.86 130.64,228.03 131.2,225.99 129.55,224.67 131.66,224.58" fill="#d01c24"/>
<polygon points="159.7,222.6 160.44,224.58 162.55,224.67 160.9,225.99 161.46,228.03 159.7,226.86 157.94,228.03 158.5,225.99 156.85,224.67 158.96,224.58" fill="#d01c24"/>
<polygon points="157.2,279.5 160.5,282.8 157.2,286.1 153.9,282.8" fill="#d01c24"/>
<polygon points="176.6,279.5 179.9,282.8 176.6,286.1 173.3,282.8" fill="#d01c24"/>
<text x="106" y="225.9" font-size="8.2" fill="#d01c24" text-anchor="start" >MEA</text>
<text x="165.5" y="222" font-size="8.2" fill="#d01c24" text-anchor="start" >H-Cell</text>
<text x="138.6" y="252.8" font-size="8.3" fill="#d01c24" text-anchor="start" >This work</text>
<text x="132.8" y="281" font-size="8.2" fill="#d01c24" text-anchor="start" >MEA</text>
<text x="166.8" y="275.4" font-size="8.2" fill="#d01c24" text-anchor="start" >H-Cell</text>
<circle cx="42.4" cy="223.8" r="2.6" fill="url(#gpur)"/>
<text x="50.3" y="226.8" font-size="8.4" fill="#2b2b2b" text-anchor="start" >Pd/NF</text>
<circle cx="42.4" cy="237.75" r="2.6" fill="url(#goli)"/>
<text x="50.3" y="240.75" font-size="8.4" fill="#2b2b2b" text-anchor="start" >Ni<tspan font-size="5.0" dy="2.6">4</tspan><tspan dy="-2.6">&#8203;</tspan>Mo</text>
<circle cx="42.4" cy="251.7" r="2.6" fill="url(#gora)"/>
<text x="50.3" y="254.7" font-size="8.4" fill="#2b2b2b" text-anchor="start" >P-WO<tspan font-size="5.0" dy="2.6">3</tspan><tspan dy="-2.6">&#8203;</tspan>/NF</text>
<circle cx="42.4" cy="265.65" r="2.6" fill="url(#gblu)"/>
<text x="50.3" y="268.65" font-size="8.4" fill="#2b2b2b" text-anchor="start" >Cu/Cu<tspan font-size="5.0" dy="2.6">2</tspan><tspan dy="-2.6">&#8203;</tspan>O</text>
<circle cx="42.4" cy="279.6" r="2.6" fill="url(#ggrn)"/>
<text x="50.3" y="282.6" font-size="8.4" fill="#2b2b2b" text-anchor="start" >CuCo<tspan font-size="5.0" dy="2.6">2</tspan><tspan dy="-2.6">&#8203;</tspan>O<tspan font-size="5.0" dy="2.6">4</tspan><tspan dy="-2.6">&#8203;</tspan>/NF</text>
<text x="0" y="0" font-size="10.5" fill="#2b2b2b" text-anchor="middle" transform="translate(13.2,272) rotate(-90)">Current density (mA cm<tspan font-size="6.2" dy="-3.6">-2</tspan><tspan dy="3.6">&#8203;</tspan>)</text>
<text x="119.9" y="356.6" font-size="10.5" fill="#2b2b2b" text-anchor="middle" >FE. (%)</text>
<text x="-0.5" y="205.3" font-size="24.8" fill="#000" text-anchor="start" >d</text>
<text x="230.3" y="206.2" font-size="24.8" fill="#000" text-anchor="start" >e</text>
<text x="231.7" y="219.4" font-size="9.7" fill="#2b2b2b" text-anchor="start" >Bipolar plate</text>
<text x="399.9" y="219.4" font-size="9.7" fill="#2b2b2b" text-anchor="start" >Bipolar plate</text>
<text x="301" y="232.5" font-size="8.8" fill="#2b2b2b" text-anchor="start" >Anode</text>
<text x="346.6" y="232.2" font-size="8.8" fill="#2b2b2b" text-anchor="start" >Cathode</text>
<text x="330.8" y="330.8" font-size="8.8" fill="#2b2b2b" text-anchor="start" >AEM</text>
<text x="275.4" y="343.3" font-size="8.8" fill="#2b2b2b" text-anchor="start" >Gasket</text>
<text x="371.1" y="343.3" font-size="8.8" fill="#2b2b2b" text-anchor="start" >Gasket</text>
<line x1="314.6" y1="253" x2="314.6" y2="241" stroke="#555" stroke-width="0.7" />
<polygon points="313.3,241.5 315.9,241.5 314.6,238.5" fill="#555"/>
<line x1="362.5" y1="252" x2="362.5" y2="238.2" stroke="#555" stroke-width="0.7" />
<polygon points="361.2,238.7 363.8,238.7 362.5,235.7" fill="#555"/>
<line x1="290.3" y1="316" x2="290.3" y2="331.8" stroke="#555" stroke-width="0.7" />
<polygon points="289,331.3 291.6,331.3 290.3,334.3" fill="#555"/>
<line x1="386.4" y1="316" x2="386.4" y2="331.8" stroke="#555" stroke-width="0.7" />
<polygon points="385.1,331.3 387.7,331.3 386.4,334.3" fill="#555"/>
<polygon points="263.2,225 269.6,224.4 269.9,236.5 263.3,237.5" fill="#c9c7b5"/>
<polygon points="266.5,224.8 269.6,224.4 269.9,236.5 266.6,237" fill="#b3b19d"/>
<polygon points="229,309.5 239.5,307.5 240,320 229,320.5" fill="#c7c5b1"/>
<ellipse cx="229.2" cy="314.8" rx="3.2" ry="5.8" fill="#d3d1bf"/>
<rect x="232" y="309" width="1.2" height="11" fill="#b0ae99"/>
<rect x="235.5" y="308.3" width="1.2" height="12" fill="#b0ae99"/>
<linearGradient id="lside" x1="0" y1="0" x2="1" y2="0"><stop offset="0" stop-color="#bcbaa5"/><stop offset="1" stop-color="#cac8b3"/></linearGradient>
<path d="M239.5,242.6 L253.9,238.5 L256.2,334 L241,333.2 Q239.6,332.8 239.5,331 L238,245 Q238,243 239.5,242.6 Z" fill="url(#lside)"/>
<polygon points="252.6,238.9 254.9,238.4 257.2,334 255.2,334" fill="#cdcbb5"/>
<polygon points="238.2,243.6 253.9,238.5 255,240.3 238.6,245.2" fill="#cbc9b4"/>
<polygon points="254.9,238.4 273.6,234.6 274.9,236.2 276.7,313.5 257.2,334" fill="#c9c7b3"/>
<polygon points="254.9,238.4 273.6,234.6 274.9,236.2 255.6,240.4" fill="#d9d7c5"/>
<polyline points="256.4,240.6 258.4,332" stroke="#d6d4c2" stroke-width="0.9" fill="none"/>
<polyline points="271.8,250 260.5,257.7 260.5,266.5" stroke="#a3a18c" stroke-width="1.7" fill="none" stroke-linejoin="round" stroke-linecap="round"/>
<polyline points="273,264.9 273,276.2 260.5,285.8 260.5,298.9" stroke="#a3a18c" stroke-width="1.7" fill="none" stroke-linejoin="round" stroke-linecap="round"/>
<polyline points="273,292.3 273,303.5 260.8,314.8 260.8,319.6" stroke="#a3a18c" stroke-width="1.7" fill="none" stroke-linejoin="round" stroke-linecap="round"/>
<polyline points="261.2,259.6 270.6,253.2" stroke="#bcbaa5" stroke-width="1.4" fill="none"/>
<polyline points="261.5,288.2 270.6,281" stroke="#bcbaa5" stroke-width="1.4" fill="none"/>
<polyline points="261.5,317 270.6,309.6" stroke="#bcbaa5" stroke-width="1.4" fill="none"/>
<polyline points="261.3,272.2 272.6,265.7" stroke="#dedcca" stroke-width="1.1" fill="none"/>
<polyline points="261.5,301.1 272.6,292.3" stroke="#dedcca" stroke-width="1.1" fill="none"/>
<rect x="270.2" y="248" width="2.4" height="3.8" fill="#85836f"/>
<polygon points="282.4,250.1 292.4,243.9 293.1,314.4 283.6,322.8" fill="#cdcdcd"/>
<polygon points="282.4,250.1 284.2,249.2 285.3,322 283.6,322.8" fill="#bdbdbd"/>
<polygon points="286.4,264 290.8,260.7 291.4,300.1 286.9,305.1" fill="#fbfbfb"/>
<polygon points="286.4,264 287.6,263.2 288.1,304 286.9,305.1" fill="#c4c4c4"/>
<polygon points="308.4,258.8 312.6,253.5 317.7,253.1 315.1,258.8" fill="#d8d3c2"/>
<polygon points="315.1,258.8 317.7,253.1 317.7,319 315.1,320.8" fill="#e2ddcb"/>
<rect x="308.4" y="258.8" width="6.7" height="62" fill="#777"/>
<polygon points="338.9,256.8 341,256.6 340.7,263.5 338.6,263.5" fill="#8d8d8d"/>
<polygon points="338.6,263.5 340.7,263.5 340.2,320 338.1,320" fill="#9bd9d1"/>
<polygon points="360.3,252.2 365.3,251.8 367,257.7 360.9,257.7" fill="#d8d3c2"/>
<rect x="360.9" y="257.7" width="6.1" height="61.4" fill="#777"/>
<polygon points="384.8,242 392.6,248.4 392.8,325.5 385.2,312" fill="#e0e0e0"/>
<polygon points="391,247.1 392.6,248.4 392.8,325.5 391.2,323" fill="#c9c9c9"/>
<polygon points="384.8,242 386.2,242.6 386.5,312.8 385.2,312" fill="#d2d2d2"/>
<polygon points="387.6,261.5 389.9,263.5 390.1,304 387.8,301" fill="#fbfbfb"/>
<polygon points="389.1,262.8 390.1,263.5 390.2,304 389.3,302.8" fill="#b5b5b5"/>
<polygon points="416.7,224.6 422.9,224.4 422.9,236.5 416.7,236" fill="#d2d0bd"/>
<polygon points="416.7,224.6 419.2,224.5 419.2,236.2 416.7,236" fill="#a9a792"/>
<polygon points="440.5,246.9 447.8,246.6 447.8,258.3 440.5,259.5" fill="#cfcdb9"/>
<polygon points="440.5,251.5 447.8,251.2 447.8,253.2 440.5,253.6" fill="#dedccb"/>
<polygon points="447.8,249 454.3,249.2 454.3,258.4 447.8,258.3" fill="#d8d6c4"/>
<ellipse cx="454" cy="253.8" rx="1.2" ry="4.6" fill="#c3c1ad"/>
<rect x="444" y="246.8" width="0.9" height="12.4" fill="#b5b39e"/>
<rect x="450.2" y="249.1" width="0.8" height="9.2" fill="#bdbba7"/>
<polygon points="406.9,234.3 410.5,233.2 425.7,237.1 441.2,241.2 440.7,329.4 424.2,329.9 406.5,309.8" fill="#d0cebb"/>
<polygon points="426.4,241.6 441.2,241.2 440.7,329.4 424.2,329.9" fill="#d2d0bd"/>
<polygon points="421.8,240.8 426.4,241.6 424.9,329.9 421.6,326" fill="#d7d5c3"/>
<polyline points="426.4,241.6 424.9,329.9" stroke="#b9b7a2" stroke-width="0.8"/>
<polygon points="406.9,234.3 410.5,233.2 425.7,237.1 441.2,241.2 426.4,241.6 421.8,240.8 406.9,236.6" fill="#dfddcd"/>
<polygon points="406.9,236.6 421.8,240.8 421.6,326 406.5,309.8" fill="#e2e0d0"/>
<polygon points="406.9,236.6 408.2,237 407.8,311.2 406.5,309.8" fill="#d4d2bf"/>
<polyline points="420.5,240.9 414.3,239.9 410.2,246" stroke="#9f9d88" stroke-width="1.8" fill="none" stroke-linejoin="round"/>
<polygon points="410,248.4 420,251.4 420,262.4 410,258.4" fill="#eeede1"/>
<polyline points="409.7,247.4 409.7,252.9" stroke="#a4a28d" stroke-width="1.5"/>
<polyline points="409.7,247.4 420.6,250.6 420.6,258.9" stroke="#a4a28d" stroke-width="1.3" fill="none"/>
<polyline points="409.7,260.6 420.6,267.9" stroke="#a4a28d" stroke-width="1.6"/>
<polyline points="410.5,257.9 419.8,263.6" stroke="#fafaf2" stroke-width="1.1"/>
<polygon points="410,272.9 420,275.9 420,286.9 410,282.9" fill="#eeede1"/>
<polyline points="409.7,271.9 409.7,277.4" stroke="#a4a28d" stroke-width="1.5"/>
<polyline points="409.7,271.9 420.6,275.1 420.6,283.4" stroke="#a4a28d" stroke-width="1.3" fill="none"/>
<polyline points="409.7,285.1 420.6,292.4" stroke="#a4a28d" stroke-width="1.6"/>
<polyline points="410.5,282.4 419.8,288.1" stroke="#fafaf2" stroke-width="1.1"/>
<polygon points="410,297.4 420,300.4 420,311.4 410,307.4" fill="#eeede1"/>
<polyline points="409.7,296.4 409.7,301.9" stroke="#a4a28d" stroke-width="1.5"/>
<polyline points="409.7,296.4 420.6,299.6 420.6,307.9" stroke="#a4a28d" stroke-width="1.3" fill="none"/>
<polyline points="409.7,309.6 420.6,316.9" stroke="#a4a28d" stroke-width="1.6"/>
<polyline points="410.5,306.9 419.8,312.6" stroke="#fafaf2" stroke-width="1.1"/>
<polyline points="409.7,296.4 409.7,304.3" stroke="#a4a28d" stroke-width="1.5"/>
<polyline points="34.3,448.6 36.5,448.5 41,449.6 47.5,450.6 54,449.6 60,448.9 62.5,449 64,450.2 70,449.3 80,448.6 85,449.2 89,450.8 100,451.3 120,451 130,450.8 135,450.3 137,447.8 139.5,449 145,449.2 161,450.8 177.5,449.4 180,451 182,452.6 195,452.2 210,451.3 232.9,449.6 255,449.5 269,448.4 280,449 292.4,449.5 294,451.2 305,450.3 319.6,449.2 321,452.3 330,451.3 338.5,451 341.2,453.2 354,451.4 370.1,448.9 374,450.5 378.2,451 402.3,450.3 415.1,450.3 420,448.9 426.5,448.4" fill="none" stroke="#1fa2f6" stroke-width="6.3" stroke-linejoin="round" stroke-linecap="round"/>
<polyline points="34.3,448.6 36.5,448.5 41,449.6 47.5,450.6 54,449.6 60,448.9 62.5,449 64,450.2 70,449.3 80,448.6 85,449.2 89,450.8 100,451.3 120,451 130,450.8 135,450.3 137,447.8 139.5,449 145,449.2 161,450.8 177.5,449.4 180,451 182,452.6 195,452.2 210,451.3 232.9,449.6 255,449.5 269,448.4 280,449 292.4,449.5 294,451.2 305,450.3 319.6,449.2 321,452.3 330,451.3 338.5,451 341.2,453.2 354,451.4 370.1,448.9 374,450.5 378.2,451 402.3,450.3 415.1,450.3 420,448.9 426.5,448.4" fill="none" stroke="#8fd0fa" stroke-width="1.1" stroke-linejoin="round" stroke-dasharray="1.2 2.6" opacity="0.55"/>
<polyline points="34.3,448.6 36.5,448.5 41,449.6 47.5,450.6 54,449.6 60,448.9 62.5,449 64,450.2 70,449.3 80,448.6 85,449.2 89,450.8 100,451.3 120,451 130,450.8 135,450.3 137,447.8 139.5,449 145,449.2 161,450.8 177.5,449.4 180,451 182,452.6 195,452.2 210,451.3 232.9,449.6 255,449.5 269,448.4 280,449 292.4,449.5 294,451.2 305,450.3 319.6,449.2 321,452.3 330,451.3 338.5,451 341.2,453.2 354,451.4 370.1,448.9 374,450.5 378.2,451 402.3,450.3 415.1,450.3 420,448.9 426.5,448.4" fill="none" stroke="#5fbaf7" stroke-width="2.6" stroke-linejoin="round" opacity="0.35" transform="translate(0,-1.2)"/>
<circle cx="63" cy="417.5" r="2.55" fill="url(#gred)"/>
<circle cx="111.2" cy="412.3" r="2.55" fill="url(#gred)"/>
<circle cx="138.9" cy="419" r="2.55" fill="url(#gred)"/>
<circle cx="178.9" cy="422.8" r="2.55" fill="url(#gred)"/>
<circle cx="222.7" cy="417.5" r="2.55" fill="url(#gred)"/>
<circle cx="266.5" cy="419" r="2.55" fill="url(#gred)"/>
<circle cx="294.5" cy="421.3" r="2.55" fill="url(#gred)"/>
<circle cx="338.3" cy="423.9" r="2.55" fill="url(#gred)"/>
<circle cx="374.4" cy="414.8" r="2.55" fill="url(#gred)"/>
<circle cx="418.4" cy="420.1" r="2.55" fill="url(#gred)"/>
<line x1="31.4" y1="380.4" x2="430.5" y2="380.4" stroke="#3a3a3a" stroke-width="1.0" />
<line x1="31.4" y1="513" x2="430.5" y2="513" stroke="#3a3a3a" stroke-width="1.0" />
<line x1="31.4" y1="379.95" x2="31.4" y2="513.45" stroke="#3a3a3a" stroke-width="1.0" />
<line x1="430.5" y1="379.95" x2="430.5" y2="513.45" stroke="#d93339" stroke-width="1.0" />
<line x1="31.4" y1="513" x2="33.7" y2="513" stroke="#3a3a3a" stroke-width="0.8" />
<text x="28.8" y="515.4" font-size="8.2" fill="#2b2b2b" text-anchor="end" >0</text>
<line x1="31.4" y1="486.48" x2="33.7" y2="486.48" stroke="#3a3a3a" stroke-width="0.8" />
<text x="28.8" y="488.88" font-size="8.2" fill="#2b2b2b" text-anchor="end" >1</text>
<line x1="31.4" y1="459.96" x2="33.7" y2="459.96" stroke="#3a3a3a" stroke-width="0.8" />
<text x="28.8" y="462.36" font-size="8.2" fill="#2b2b2b" text-anchor="end" >2</text>
<line x1="31.4" y1="433.44" x2="33.7" y2="433.44" stroke="#3a3a3a" stroke-width="0.8" />
<text x="28.8" y="435.84" font-size="8.2" fill="#2b2b2b" text-anchor="end" >3</text>
<line x1="31.4" y1="406.92" x2="33.7" y2="406.92" stroke="#3a3a3a" stroke-width="0.8" />
<text x="28.8" y="409.32" font-size="8.2" fill="#2b2b2b" text-anchor="end" >4</text>
<line x1="31.4" y1="380.4" x2="33.7" y2="380.4" stroke="#3a3a3a" stroke-width="0.8" />
<text x="28.8" y="382.8" font-size="8.2" fill="#2b2b2b" text-anchor="end" >5</text>
<line x1="31.4" y1="499.74" x2="32.7" y2="499.74" stroke="#3a3a3a" stroke-width="0.7" />
<line x1="31.4" y1="473.22" x2="32.7" y2="473.22" stroke="#3a3a3a" stroke-width="0.7" />
<line x1="31.4" y1="446.7" x2="32.7" y2="446.7" stroke="#3a3a3a" stroke-width="0.7" />
<line x1="31.4" y1="420.18" x2="32.7" y2="420.18" stroke="#3a3a3a" stroke-width="0.7" />
<line x1="31.4" y1="393.66" x2="32.7" y2="393.66" stroke="#3a3a3a" stroke-width="0.7" />
<line x1="430.5" y1="513" x2="428.2" y2="513" stroke="#d01c24" stroke-width="0.8" />
<text x="433.5" y="515.1" font-size="8.2" fill="#d01c24" text-anchor="start" >0</text>
<line x1="430.5" y1="486.48" x2="428.2" y2="486.48" stroke="#d01c24" stroke-width="0.8" />
<text x="433.5" y="488.58" font-size="8.2" fill="#d01c24" text-anchor="start" >20</text>
<line x1="430.5" y1="459.96" x2="428.2" y2="459.96" stroke="#d01c24" stroke-width="0.8" />
<text x="433.5" y="462.06" font-size="8.2" fill="#d01c24" text-anchor="start" >40</text>
<line x1="430.5" y1="433.44" x2="428.2" y2="433.44" stroke="#d01c24" stroke-width="0.8" />
<text x="433.5" y="435.54" font-size="8.2" fill="#d01c24" text-anchor="start" >60</text>
<line x1="430.5" y1="406.92" x2="428.2" y2="406.92" stroke="#d01c24" stroke-width="0.8" />
<text x="433.5" y="409.02" font-size="8.2" fill="#d01c24" text-anchor="start" >80</text>
<line x1="430.5" y1="380.4" x2="428.2" y2="380.4" stroke="#d01c24" stroke-width="0.8" />
<text x="433.5" y="382.5" font-size="8.2" fill="#d01c24" text-anchor="start" >100</text>
<line x1="430.5" y1="499.74" x2="429.2" y2="499.74" stroke="#d01c24" stroke-width="0.7" />
<line x1="430.5" y1="473.22" x2="429.2" y2="473.22" stroke="#d01c24" stroke-width="0.7" />
<line x1="430.5" y1="446.7" x2="429.2" y2="446.7" stroke="#d01c24" stroke-width="0.7" />
<line x1="430.5" y1="420.18" x2="429.2" y2="420.18" stroke="#d01c24" stroke-width="0.7" />
<line x1="430.5" y1="393.66" x2="429.2" y2="393.66" stroke="#d01c24" stroke-width="0.7" />
<line x1="31.4" y1="513" x2="31.4" y2="510.7" stroke="#3a3a3a" stroke-width="0.8" />
<text x="31.4" y="522" font-size="8.2" fill="#2b2b2b" text-anchor="middle" >0</text>
<line x1="111.22" y1="513" x2="111.22" y2="510.7" stroke="#3a3a3a" stroke-width="0.8" />
<text x="111.22" y="522" font-size="8.2" fill="#2b2b2b" text-anchor="middle" >20</text>
<line x1="191.04" y1="513" x2="191.04" y2="510.7" stroke="#3a3a3a" stroke-width="0.8" />
<text x="191.04" y="522" font-size="8.2" fill="#2b2b2b" text-anchor="middle" >40</text>
<line x1="270.86" y1="513" x2="270.86" y2="510.7" stroke="#3a3a3a" stroke-width="0.8" />
<text x="270.86" y="522" font-size="8.2" fill="#2b2b2b" text-anchor="middle" >60</text>
<line x1="350.68" y1="513" x2="350.68" y2="510.7" stroke="#3a3a3a" stroke-width="0.8" />
<text x="350.68" y="522" font-size="8.2" fill="#2b2b2b" text-anchor="middle" >80</text>
<line x1="430.5" y1="513" x2="430.5" y2="510.7" stroke="#3a3a3a" stroke-width="0.8" />
<text x="430.5" y="522" font-size="8.2" fill="#2b2b2b" text-anchor="middle" >100</text>
<line x1="71.31" y1="513" x2="71.31" y2="511.7" stroke="#3a3a3a" stroke-width="0.7" />
<line x1="151.13" y1="513" x2="151.13" y2="511.7" stroke="#3a3a3a" stroke-width="0.7" />
<line x1="230.95" y1="513" x2="230.95" y2="511.7" stroke="#3a3a3a" stroke-width="0.7" />
<line x1="310.77" y1="513" x2="310.77" y2="511.7" stroke="#3a3a3a" stroke-width="0.7" />
<line x1="390.59" y1="513" x2="390.59" y2="511.7" stroke="#3a3a3a" stroke-width="0.7" />
<text x="0" y="0" font-size="10.5" fill="#2b2b2b" text-anchor="middle" transform="translate(13.6,446.7) rotate(-90)">Cell voltage (V)</text>
<text x="0" y="0" font-size="10.5" fill="#d01c24" text-anchor="middle" transform="translate(454.0,447.6) rotate(-90)">FE. (%)</text>
<text x="236.4" y="533.2" font-size="10.5" fill="#2b2b2b" text-anchor="middle" >Time (h)</text>
<text x="303.3" y="400.3" font-size="10.6" fill="#2b2b2b" text-anchor="start" >Average FE over 72%</text>
<path d="M388.2,415.8 Q392.5,433.5 411,436.2" fill="none" stroke="#d01c24" stroke-width="0.9"/>
<polygon points="409.8,433.9 415,436.6 409.6,438.6" fill="#d01c24"/>
<line x1="161.7" y1="469.3" x2="174.17" y2="476.5" stroke="#333" stroke-width="1.0" />
<line x1="174.17" y1="476.5" x2="174.17" y2="490.9" stroke="#333" stroke-width="1.0" />
<line x1="174.17" y1="490.9" x2="161.7" y2="498.1" stroke="#333" stroke-width="1.0" />
<line x1="161.7" y1="498.1" x2="149.23" y2="490.9" stroke="#333" stroke-width="1.0" />
<line x1="149.23" y1="490.9" x2="149.23" y2="476.5" stroke="#333" stroke-width="1.0" />
<line x1="149.23" y1="476.5" x2="161.7" y2="469.3" stroke="#333" stroke-width="1.0" />
<line x1="162.61" y1="472.13" x2="171.27" y2="477.13" stroke="#333" stroke-width="1.0" />
<line x1="171.27" y1="490.27" x2="162.61" y2="495.27" stroke="#333" stroke-width="1.0" />
<line x1="151.23" y1="488.7" x2="151.23" y2="478.7" stroke="#333" stroke-width="1.0" />
<line x1="174.17" y1="476.5" x2="183.78" y2="470.95" stroke="#333" stroke-width="1.0" />
<line x1="174.17" y1="490.9" x2="183.78" y2="496.45" stroke="#333" stroke-width="1.0" />
<line x1="189.5" y1="470.95" x2="199.11" y2="476.5" stroke="#333" stroke-width="1.0" />
<line x1="199.11" y1="476.5" x2="199.11" y2="490.9" stroke="#333" stroke-width="1.0" />
<line x1="199.11" y1="490.9" x2="189.5" y2="496.45" stroke="#333" stroke-width="1.0" />
<line x1="187.03" y1="471.83" x2="196.73" y2="477.43" stroke="#333" stroke-width="1.0" />
<line x1="196.73" y1="489.97" x2="187.03" y2="495.57" stroke="#333" stroke-width="1.0" />
<text x="186.64" y="472.2" font-size="8.2" fill="#d01c24" text-anchor="middle" >N</text>
<text x="186.64" y="501" font-size="8.2" fill="#d01c24" text-anchor="middle" >N</text>
<line x1="302.9" y1="469.5" x2="315.37" y2="476.7" stroke="#333" stroke-width="1.0" />
<line x1="315.37" y1="476.7" x2="315.37" y2="491.1" stroke="#333" stroke-width="1.0" />
<line x1="315.37" y1="491.1" x2="302.9" y2="498.3" stroke="#333" stroke-width="1.0" />
<line x1="302.9" y1="498.3" x2="290.43" y2="491.1" stroke="#333" stroke-width="1.0" />
<line x1="290.43" y1="491.1" x2="290.43" y2="476.7" stroke="#333" stroke-width="1.0" />
<line x1="290.43" y1="476.7" x2="302.9" y2="469.5" stroke="#333" stroke-width="1.0" />
<line x1="303.81" y1="472.33" x2="312.47" y2="477.33" stroke="#333" stroke-width="1.0" />
<line x1="312.47" y1="490.47" x2="303.81" y2="495.47" stroke="#333" stroke-width="1.0" />
<line x1="292.43" y1="488.9" x2="292.43" y2="478.9" stroke="#333" stroke-width="1.0" />
<line x1="315.37" y1="476.7" x2="324.98" y2="471.15" stroke="#333" stroke-width="1.0" />
<line x1="315.37" y1="491.1" x2="324.98" y2="496.65" stroke="#333" stroke-width="1.0" />
<line x1="330.7" y1="471.15" x2="340.31" y2="476.7" stroke="#333" stroke-width="1.0" />
<line x1="340.31" y1="476.7" x2="340.31" y2="491.1" stroke="#333" stroke-width="1.0" />
<line x1="340.31" y1="491.1" x2="330.7" y2="496.65" stroke="#333" stroke-width="1.0" />
<text x="327.84" y="471.5" font-size="8.2" fill="#d01c24" text-anchor="middle" >N</text>
<text x="327.84" y="465.6" font-size="8.2" fill="#d01c24" text-anchor="middle" >H</text>
<text x="327.84" y="501.3" font-size="8.2" fill="#d01c24" text-anchor="middle" >N</text>
<text x="327.84" y="507.3" font-size="8.2" fill="#d01c24" text-anchor="middle" >H</text>
<line x1="204.2" y1="483.9" x2="284.5" y2="483.9" stroke="#222" stroke-width="0.9" />
<polygon points="283.6,481.6 288.6,483.9 283.6,486.2" fill="#222"/>
<text x="245.4" y="477.8" font-size="8.6" fill="#2b2b2b" text-anchor="middle" >200 mA cm<tspan font-size="5.3" dy="-3.4">-2</tspan><tspan dy="3.4">&#8203;</tspan></text>
<text x="207.6" y="494.9" font-size="8.6" fill="#2b2b2b" text-anchor="start" >Ru<tspan font-size="4.7988" dy="2.7">SA</tspan><tspan dy="-2.7">&#8203;</tspan>/ns-Co<tspan font-size="5.332" dy="2.7">3</tspan><tspan dy="-2.7">&#8203;</tspan>O<tspan font-size="5.332" dy="2.7">4</tspan><tspan dy="-2.7">&#8203;</tspan>-0.7%</text>
<text x="-0.5" y="384.6" font-size="24.8" fill="#000" text-anchor="start" >g</text>
<line x1="493.8" y1="378.8" x2="657.6" y2="378.8" stroke="#666" stroke-width="0.95" />
<line x1="493.8" y1="513.3" x2="657.6" y2="513.3" stroke="#666" stroke-width="0.95" />
<line x1="493.8" y1="378.35" x2="493.8" y2="513.75" stroke="#666" stroke-width="0.95" />
<line x1="657.6" y1="378.35" x2="657.6" y2="513.75" stroke="#666" stroke-width="0.95" />
<line x1="657.2" y1="513.3" x2="657.2" y2="511" stroke="#3a3a3a" stroke-width="0.8" />
<text x="657.2" y="522.3" font-size="8.2" fill="#2b2b2b" text-anchor="middle" >0</text>
<line x1="624.6" y1="513.3" x2="624.6" y2="511" stroke="#3a3a3a" stroke-width="0.8" />
<text x="624.6" y="522.3" font-size="8.2" fill="#2b2b2b" text-anchor="middle" >2</text>
<line x1="592" y1="513.3" x2="592" y2="511" stroke="#3a3a3a" stroke-width="0.8" />
<text x="592" y="522.3" font-size="8.2" fill="#2b2b2b" text-anchor="middle" >4</text>
<line x1="559.4" y1="513.3" x2="559.4" y2="511" stroke="#3a3a3a" stroke-width="0.8" />
<text x="559.4" y="522.3" font-size="8.2" fill="#2b2b2b" text-anchor="middle" >6</text>
<line x1="526.8" y1="513.3" x2="526.8" y2="511" stroke="#3a3a3a" stroke-width="0.8" />
<text x="526.8" y="522.3" font-size="8.2" fill="#2b2b2b" text-anchor="middle" >8</text>
<line x1="494.2" y1="513.3" x2="494.2" y2="511" stroke="#3a3a3a" stroke-width="0.8" />
<text x="494.2" y="522.3" font-size="8.2" fill="#2b2b2b" text-anchor="middle" >10</text>
<line x1="640.9" y1="513.3" x2="640.9" y2="512" stroke="#3a3a3a" stroke-width="0.7" />
<line x1="608.3" y1="513.3" x2="608.3" y2="512" stroke="#3a3a3a" stroke-width="0.7" />
<line x1="575.7" y1="513.3" x2="575.7" y2="512" stroke="#3a3a3a" stroke-width="0.7" />
<line x1="543.1" y1="513.3" x2="543.1" y2="512" stroke="#3a3a3a" stroke-width="0.7" />
<line x1="510.5" y1="513.3" x2="510.5" y2="512" stroke="#3a3a3a" stroke-width="0.7" />
<polyline points="494.2,502.5 538.21,502.1 538.54,499.9 539.02,502.2 547.99,502 548.32,490 548.97,485.6 549.29,487.5 549.62,485.2 550.11,487 550.43,501.8 551.25,502.3 595.26,502.1 598.19,500.4 600.8,501 601.45,408.4 602.11,500.8 602.6,501.8 606.67,502.3 656.38,502.3 657.2,500.8" fill="none" stroke="#e0262c" stroke-width="0.85" stroke-linejoin="round"/>
<text x="0" y="0" font-size="10.5" fill="#2b2b2b" text-anchor="middle" transform="translate(483.8,446.7) rotate(-90)">Intensity (arb. units)</text>
<text x="578.6" y="532.5" font-size="10.5" fill="#2b2b2b" text-anchor="middle" >ppm</text>
<rect x="504.1" y="385.1" width="59.8" height="85.5" fill="#d9dbdc"/>
<linearGradient id="shl" x1="0" y1="0" x2="0" y2="1"><stop offset="0" stop-color="#7d8082"/><stop offset="1" stop-color="#b9bcbe"/></linearGradient>
<rect x="504.1" y="385.1" width="59.8" height="41" fill="url(#shl)"/>
<rect x="504.1" y="385.1" width="59.8" height="1.5" fill="#5d5f60"/>
<rect x="512" y="386.6" width="44.5" height="1.6" fill="#a9abac"/>
<polygon points="511.9,388.2 556.6,388.2 563.9,420 563.9,425.8 504.1,425.8 504.1,420" fill="#e3e5e7"/>
<polygon points="511.9,388.2 556.6,388.2 558,392 510.5,392" fill="#eceeef"/>
<ellipse cx="535.3" cy="406.8" rx="17.4" ry="9.7" fill="#5e5e5e"/>
<ellipse cx="536.2" cy="406.0" rx="15.8" ry="8.3" fill="#a2a2a2"/>
<ellipse cx="536.8" cy="405.2" rx="14.4" ry="7.2" fill="#c4c4c4"/>
<polygon points="521.8,398.9 545,395.5 552.6,406.8 528.8,411.8" fill="#f2f2f2"/>
<polygon points="528.8,411.8 552.6,406.8 549,408.6 531,412.6" fill="#5a5a5a"/>
<ellipse cx="537" cy="398.5" rx="10.5" ry="6.5" fill="#3b1a10"/>
<ellipse cx="531" cy="401" rx="6.5" ry="5.2" fill="#401c11"/>
<ellipse cx="544" cy="400" rx="6" ry="4.8" fill="#44200f"/>
<ellipse cx="536.5" cy="393" rx="5" ry="3.6" fill="#3d1b10"/>
<ellipse cx="540" cy="403.5" rx="6" ry="3.8" fill="#3a1a0f"/>
<ellipse cx="548" cy="396.5" rx="2.6" ry="2.4" fill="#4a2214"/>
<circle cx="526" cy="398" r="1.6" fill="#3b1a10"/>
<circle cx="529.5" cy="395" r="1.5" fill="#44200f"/>
<circle cx="533" cy="391.5" r="1.4" fill="#3d1b10"/>
<circle cx="540.5" cy="390.5" r="1.5" fill="#3b1a10"/>
<circle cx="545" cy="393.5" r="1.4" fill="#4a2214"/>
<circle cx="550" cy="399.5" r="1.3" fill="#3d1b10"/>
<circle cx="547" cy="404" r="1.5" fill="#3b1a10"/>
<circle cx="524.8" cy="402.5" r="1.3" fill="#44200f"/>
<circle cx="533" cy="397" r="1.1" fill="#6e2e1a"/>
<circle cx="539.5" cy="395.5" r="0.9" fill="#7a3520"/>
<circle cx="544" cy="399" r="1.0" fill="#652a18"/>
<circle cx="529" cy="402" r="0.9" fill="#6a2c19"/>
<circle cx="536.5" cy="401.5" r="0.8" fill="#5a2616"/>
<circle cx="541.5" cy="402.8" r="0.9" fill="#70301b"/>
<rect x="504.1" y="425.8" width="59.8" height="2.2" fill="#8e9092"/>
<rect x="504.1" y="428" width="59.8" height="41.2" fill="#e6e6e6"/>
<circle cx="510.4" cy="434.4" r="1.7" fill="#707070"/>
<circle cx="510.1" cy="434.1" r="0.8" fill="#a0a0a0"/>
<rect x="523.8" y="434.8" width="19" height="3.2" fill="#fbfbfb"/>
<rect x="527.5" y="442.4" width="16.5" height="1.5" fill="#5a6fb0" opacity="0.75"/>
<rect x="512.6" y="443.5" width="3.5" height="1.2" fill="#5a6fb0" opacity="0.6"/>
<rect x="512.5" y="446" width="46.2" height="13" fill="#e8e9dc"/>
<text x="523.2" y="457" font-size="10" fill="#6a7cc8" stroke="#3f55b8" stroke-width="0.35" textLength="25" lengthAdjust="spacingAndGlyphs" font-style="italic">157.855</text>
<text x="550.2" y="456.5" font-size="4.2" fill="#4257b5">mg</text>
<rect x="512" y="459.1" width="47" height="7.7" fill="#2f4190"/>
<rect x="540" y="459.1" width="19" height="7.7" fill="#3b4d9d"/>
<rect x="515" y="461.5" width="41" height="0.6" fill="#6c7bbb" opacity="0.7"/>
<rect x="504.1" y="469.2" width="59.8" height="1.4" fill="#262626"/>
<text x="461.5" y="382.7" font-size="24.8" fill="#000" text-anchor="start" >h</text>
</svg></body></html>
